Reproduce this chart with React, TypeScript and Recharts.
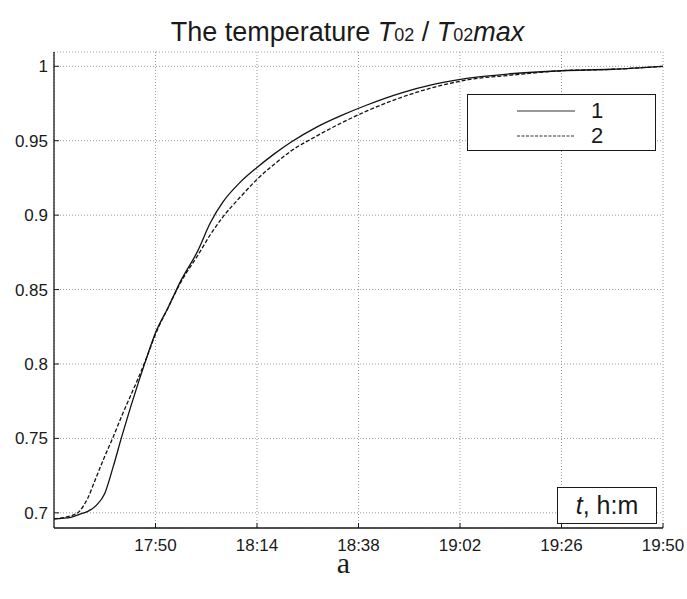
import React from "react";
import {
  LineChart,
  Line,
  XAxis,
  YAxis,
  CartesianGrid,
} from "recharts";

// Sampling times (h:mm) and the normalized temperature T02 / T02max for both runs
const timeLabels = [
  "17:26", "17:30", "17:32", "17:34", "17:36", "17:38", "17:40", "17:42",
  "17:44", "17:46", "17:48", "17:50", "17:53", "17:56", "18:00", "18:03",
  "18:06", "18:10", "18:14", "18:18", "18:22", "18:28", "18:34", "18:40",
  "18:48", "18:56", "19:04", "19:14", "19:26", "19:38", "19:50",
];

const series1 = [
  0.696, 0.697, 0.699, 0.701, 0.705, 0.713, 0.731, 0.751,
  0.770, 0.788, 0.805, 0.821, 0.838, 0.856, 0.876, 0.895,
  0.909, 0.922, 0.932, 0.941, 0.949, 0.959, 0.967, 0.974,
  0.982, 0.988, 0.992, 0.995, 0.997, 0.998, 1.0,
];

const series2 = [
  0.696, 0.698, 0.701, 0.710, 0.724, 0.738, 0.751, 0.765,
  0.778, 0.791, 0.805, 0.820, 0.838, 0.855, 0.873, 0.887,
  0.899, 0.912, 0.924, 0.934, 0.943, 0.953, 0.962, 0.970,
  0.979, 0.986, 0.991, 0.994, 0.997, 0.998, 1.0,
];

const seriesNames = ["1", "2"];

const xTickLabels = ["17:50", "18:14", "18:38", "19:02", "19:26", "19:50"];
const yTicks = [0.7, 0.75, 0.8, 0.85, 0.9, 0.95, 1];
const xStart = "17:26";
const xEnd = "19:50";
const yDomain: [number, number] = [0.6898, 1.0096];

const toMinutes = (s: string) => {
  const [h, m] = s.split(":").map(Number);
  return h * 60 + m;
};
const fmtTime = (v: number) => {
  const h = Math.floor(v / 60);
  const m = Math.round(v - h * 60);
  return `${h}:${m < 10 ? "0" : ""}${m}`;
};

const data = timeLabels.map((t, i) => ({
  t: toMinutes(t),
  s1: series1[i],
  s2: series2[i],
}));

const xDomain: [number, number] = [toMinutes(xStart), toMinutes(xEnd)];
const xTicks = xTickLabels.map(toMinutes);

const FONT = '"Liberation Sans", Arial, Helvetica, sans-serif';
const INK = "#1a1a1a";

const tickStyle = { fontSize: 17, fill: INK, fontFamily: FONT };

export default function App() {
  return (
    <div
      style={{
        position: "absolute",
        left: 0,
        top: 0,
        width: 687,
        height: 599,
        background: "#fff",
        fontFamily: FONT,
        color: INK,
      }}
    >
      <LineChart
        width={687}
        height={599}
        data={data}
        margin={{ top: 52, right: 24, bottom: 41, left: 0 }}
      >
        <CartesianGrid
          stroke="#9a9a9a"
          strokeDasharray="1 2"
          strokeWidth={1}
        />
        <XAxis
          dataKey="t"
          type="number"
          domain={xDomain}
          ticks={xTicks}
          tickFormatter={fmtTime}
          allowDataOverflow
          height={30}
          tickSize={-5}
          tickMargin={16}
          tick={tickStyle}
          stroke={INK}
          axisLine={{ stroke: INK, strokeWidth: 1.3 }}
          tickLine={{ stroke: INK }}
        />
        <XAxis
          xAxisId="top"
          orientation="top"
          dataKey="t"
          type="number"
          domain={xDomain}
          ticks={xTicks}
          allowDataOverflow
          height={0}
          tickSize={-5}
          tick={false}
          axisLine={{ stroke: INK, strokeWidth: 1.3 }}
          tickLine={{ stroke: INK }}
        />
        <YAxis
          type="number"
          domain={yDomain}
          ticks={yTicks}
          allowDataOverflow
          width={54}
          tickSize={-5}
          tickMargin={11}
          tick={tickStyle}
          axisLine={{ stroke: INK, strokeWidth: 1.3 }}
          tickLine={{ stroke: INK }}
        />
        <YAxis
          yAxisId="right"
          orientation="right"
          type="number"
          domain={yDomain}
          ticks={yTicks}
          allowDataOverflow
          width={0}
          tickSize={-5}
          tick={false}
          axisLine={{ stroke: INK, strokeWidth: 1.3 }}
          tickLine={{ stroke: INK }}
        />
        <Line
          dataKey="s1"
          name={seriesNames[0]}
          type="monotone"
          stroke="#111"
          strokeWidth={1.3}
          dot={false}
          isAnimationActive={false}
        />
        <Line
          dataKey="s2"
          name={seriesNames[1]}
          type="monotone"
          stroke="#111"
          strokeWidth={1.3}
          strokeDasharray="4 2"
          dot={false}
          isAnimationActive={false}
        />
      </LineChart>

      {/* Title */}
      <div
        style={{
          position: "absolute",
          left: 0,
          top: 16,
          width: 687,
          textAlign: "center",
          fontSize: 27,
          lineHeight: "32px",
          whiteSpace: "nowrap",
          paddingLeft: 8,
          boxSizing: "border-box",
        }}
      >
        The temperature <i>T</i>
        <span style={{ fontSize: 18 }}>02</span> / <i>T</i>
        <span style={{ fontSize: 18 }}>02</span>
        <i>max</i>
      </div>

      {/* Legend */}
      <div
        style={{
          position: "absolute",
          left: 467,
          top: 94,
          width: 189,
          height: 57,
          border: `1.3px solid ${INK}`,
          background: "#fff",
          boxSizing: "border-box",
        }}
      >
        {seriesNames.map((n, i) => (
          <div
            key={n}
            style={{
              position: "absolute",
              left: 49,
              top: 3 + i * 25,
              height: 26,
              display: "flex",
              alignItems: "center",
            }}
          >
            <svg width={58} height={4} style={{ display: "block" }}>
              <line
                x1={0}
                y1={2}
                x2={58}
                y2={2}
                stroke="#333"
                strokeWidth={1.2}
                strokeDasharray={i === 1 ? "3 1.5" : undefined}
              />
            </svg>
            <span style={{ marginLeft: 16, fontSize: 22 }}>{n}</span>
          </div>
        ))}
      </div>

      {/* Axis unit box */}
      <div
        style={{
          position: "absolute",
          left: 557,
          top: 487,
          width: 100,
          height: 37,
          border: `1.3px solid ${INK}`,
          background: "#fff",
          boxSizing: "border-box",
          fontSize: 25,
          lineHeight: "34px",
          textAlign: "center",
          whiteSpace: "nowrap",
        }}
      >
        <i>t</i>, h:m
      </div>

      {/* Panel caption */}
      <div
        style={{
          position: "absolute",
          left: 0,
          top: 558,
          width: 687,
          textAlign: "center",
          fontFamily: '"Liberation Serif", "Times New Roman", serif',
          fontSize: 30,
          lineHeight: "10px",
        }}
      >
        a
      </div>
    </div>
  );
}
